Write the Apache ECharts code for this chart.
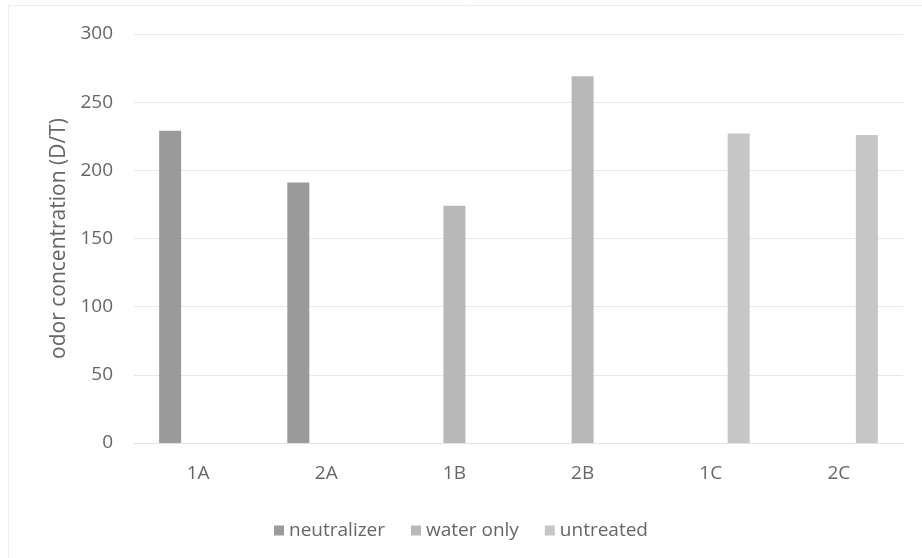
<!DOCTYPE html>
<html>
<head>
<meta charset="utf-8">
<style>
  html, body { margin: 0; padding: 0; background: #ffffff; }
  #chart { width: 922px; height: 558px; }
</style>
<script src="https://cdn.jsdelivr.net/npm/echarts@6/dist/echarts.min.js"></script>
</head>
<body>
<div id="chart"></div>
<script>
// Sample groups on the category axis
const categories = ['1A', '2A', '1B', '2B', '1C', '2C'];

// Odor concentration (D/T) per treatment; empty where a group was not given that treatment
const neutralizer = [229, 191, null, null, null, null];
const waterOnly   = [null, null, 174, 269, null, null];
const untreated   = [null, null, null, null, 227, 226];

const seriesNames = ['neutralizer', 'water only', 'untreated'];
const yTicks = { min: 0, max: 300, interval: 50 };

const FONT = 'Open Sans';
const TEXT = '#666666';
const colors = ['#9a9a9a', '#b8b8b8', '#c6c6c6'];

const chart = echarts.init(document.getElementById('chart'), null, { renderer: 'canvas' });

const makeSeries = (name, data, color) => ({
  name: name,
  type: 'bar',
  data: data,
  barWidth: 22,
  barGap: '27%',
  itemStyle: { color: color },
  emphasis: { disabled: true }
});

chart.setOption({
  backgroundColor: '#ffffff',
  animation: false,
  color: colors,
  textStyle: { fontFamily: FONT },
  graphic: [{
    type: 'rect',
    shape: { x: 8.5, y: 5.5, width: 922, height: 560 },
    style: { fill: 'none', stroke: '#eeeeee', lineWidth: 1 },
    silent: true
  }],
  grid: { left: 134, right: 19, top: 34, bottom: 115 },
  legend: {
    data: seriesNames,
    left: 'center',
    top: 516,
    icon: 'rect',
    itemWidth: 10,
    itemHeight: 10,
    itemGap: 26,
    textStyle: { fontFamily: FONT, fontSize: 19, color: TEXT }
  },
  xAxis: {
    type: 'category',
    data: categories,
    axisLine: { show: true, lineStyle: { color: '#e3e3e3' } },
    axisTick: { show: false },
    axisLabel: { fontFamily: FONT, fontSize: 19, color: TEXT, margin: 21 }
  },
  yAxis: {
    type: 'value',
    min: yTicks.min,
    max: yTicks.max,
    interval: yTicks.interval,
    name: 'odor concentration (D/T)',
    nameLocation: 'middle',
    nameGap: 64,
    nameRotate: 90,
    nameTextStyle: { fontFamily: FONT, fontSize: 21, color: TEXT },
    axisLine: { show: false },
    axisTick: { show: false },
    axisLabel: { fontFamily: FONT, fontSize: 19, color: TEXT, margin: 21 },
    splitLine: { lineStyle: { color: '#e8e8e8', width: 1 } }
  },
  series: [
    makeSeries(seriesNames[0], neutralizer, colors[0]),
    makeSeries(seriesNames[1], waterOnly, colors[1]),
    makeSeries(seriesNames[2], untreated, colors[2])
  ]
});
</script>
</body>
</html>
